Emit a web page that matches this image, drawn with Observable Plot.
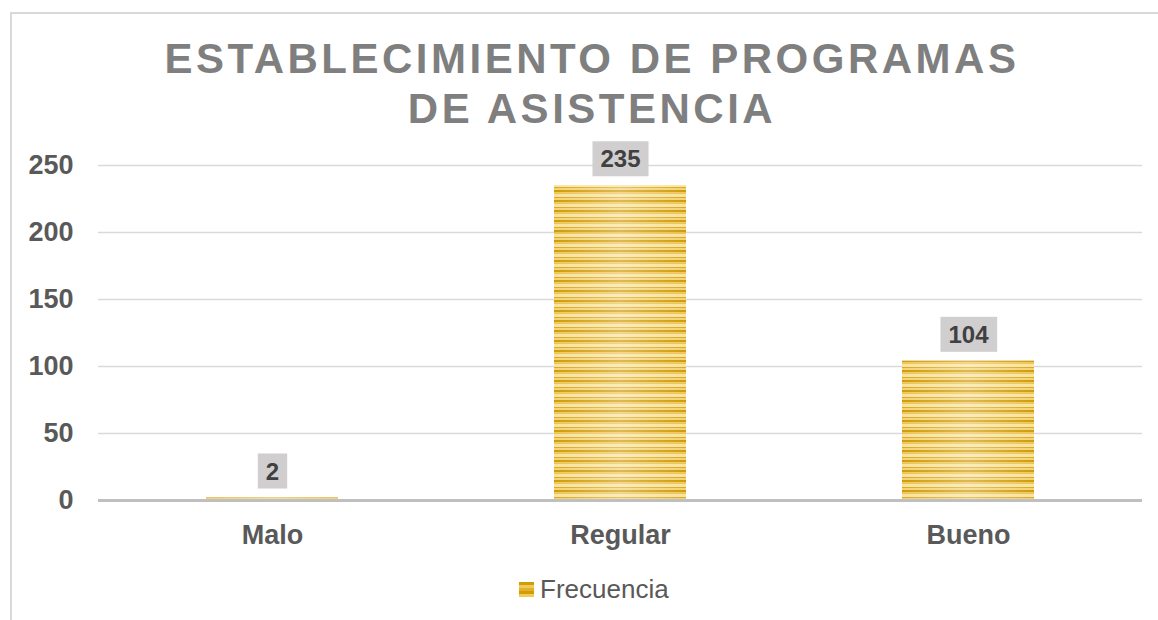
<!DOCTYPE html>
<html>
<head>
<meta charset="utf-8">
<script src="https://cdn.jsdelivr.net/npm/d3@7"></script>
<script src="https://cdn.jsdelivr.net/npm/@observablehq/plot@0.6"></script>
<style>
  html, body { margin: 0; padding: 0; background: #fff; overflow: hidden; }
  body { width: 1158px; height: 620px; position: relative; font-family: "Liberation Sans", Arial, sans-serif; }
  #frame { position: absolute; left: 10px; top: 12px; width: 1170px; height: 640px; border: 2px solid #d9d9d9; box-sizing: border-box; }
  #title { position: absolute; left: 0; top: 34px; width: 1184px; text-align: center; font-size: 42px; line-height: 50px; font-weight: bold; color: #7f7f7f; letter-spacing: 3.5px; }
  #chart { position: absolute; left: 0; top: 130px; }
  #legend { position: absolute; left: 519px; top: 574px; display: flex; align-items: center; font-size: 26px; color: #595959; }
  #legend .sw { width: 15px; height: 15px; margin-right: 6px; background: repeating-linear-gradient(180deg, #d09c0a 0 3px, #f0cc55 3px 6px, #e2b02a 6px 9px); }
</style>
</head>
<body>
<div id="frame"></div>
<div id="title">ESTABLECIMIENTO DE PROGRAMAS<br>DE ASISTENCIA</div>
<div id="chart"></div>
<div id="legend"><span class="sw"></span><span>Frecuencia</span></div>
<script>
const categories = ["Malo", "Regular", "Bueno"];
const frecuencia = [2, 235, 104];
const yTicks = [0, 50, 100, 150, 200, 250];
const seriesName = "Frecuencia";

const data = categories.map((c, i) => ({categoria: c, valor: frecuencia[i]}));

const plot = Plot.plot({
  width: 1158,
  height: 430,
  marginTop: 35,
  marginBottom: 60,
  marginLeft: 98,
  marginRight: 16,
  style: {fontFamily: "'Liberation Sans', Arial, sans-serif", background: "transparent"},
  x: {domain: categories, paddingInner: 0.62, paddingOuter: 0.31, label: null},
  y: {domain: [0, 250], label: null, ticks: yTicks},
  marks: [
    Plot.gridY(yTicks, {stroke: "#d9d9d9", strokeOpacity: 1, strokeWidth: 1.5}),
    Plot.barY(data, {x: "categoria", y: "valor", fill: "url(#stripes)"}),
    Plot.ruleY([0], {stroke: "#bfbfbf", strokeWidth: 3}),
    Plot.axisY(yTicks, {tickSize: 0, tickPadding: 25, fontSize: 27, fontWeight: "bold", fill: "#595959"}),
    Plot.axisX({tickSize: 0, tickPadding: 24, fontSize: 27, fontWeight: "bold", fill: "#595959"}),
    Plot.text(data, {x: "categoria", y: "valor", text: d => String(d.valor), dy: -26, fontSize: 24, fontWeight: "bold", fill: "#404040"})
  ]
});

// stripe pattern + horizontal sheen
const ns = "http://www.w3.org/2000/svg";
const defs = document.createElementNS(ns, "defs");
defs.innerHTML = `
  <linearGradient id="sheen" x1="0" x2="1" y1="0" y2="0">
    <stop offset="0" stop-color="#fff" stop-opacity="0"/>
    <stop offset="0.5" stop-color="#fff" stop-opacity="0.3"/>
    <stop offset="1" stop-color="#fff" stop-opacity="0"/>
  </linearGradient>
  <pattern id="stripes" patternUnits="userSpaceOnUse" width="10" height="10">
    <rect x="0" y="0" width="10" height="2.5" fill="#d09c0a"/>
    <rect x="0" y="2.5" width="10" height="1.5" fill="#eec44a"/>
    <rect x="0" y="4" width="10" height="3" fill="#f9e3a0"/>
    <rect x="0" y="7" width="10" height="1.5" fill="#dca820"/>
    <rect x="0" y="8.5" width="10" height="1.5" fill="#f3d470"/>
  </pattern>`;
plot.insertBefore(defs, plot.firstChild);
document.getElementById("chart").appendChild(plot);

// sheen overlays on bars
plot.querySelectorAll('g[aria-label="bar"] rect').forEach(r => {
  const o = r.cloneNode();
  o.setAttribute("fill", "url(#sheen)");
  r.parentNode.insertBefore(o, r.nextSibling);
});

// grey boxes behind data labels
plot.querySelectorAll('g[aria-label="text"] text').forEach(t => {
  const b = t.getBBox();
  const padX = 8, h = 35;
  const rect = document.createElementNS(ns, "rect");
  rect.setAttribute("x", b.x - padX);
  rect.setAttribute("y", b.y + b.height / 2 - h / 2);
  rect.setAttribute("width", b.width + 2 * padX);
  rect.setAttribute("height", h);
  rect.setAttribute("fill", "#d0cece");
  const tr = t.getAttribute("transform");
  if (tr) rect.setAttribute("transform", tr);
  t.parentNode.insertBefore(rect, t);
});
</script>
</body>
</html>
